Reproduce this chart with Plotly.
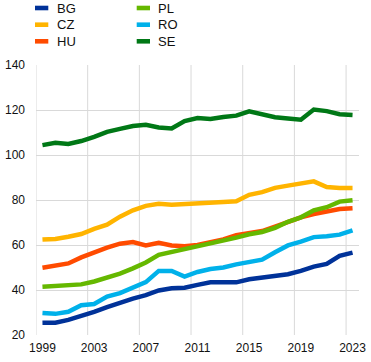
import plotly.graph_objects as go

years = list(range(1999, 2024))
BG = [25.4, 25.5, 26.7, 28.4, 30.3, 32.4, 34.4, 36.2, 37.7, 39.8, 40.8, 41.0, 42.3,
      43.4, 43.4, 43.4, 44.8, 45.6, 46.2, 47.0, 48.5, 50.4, 51.6, 55.2, 56.6]
CZ = [62.4, 62.7, 63.7, 64.9, 67.2, 69.0, 72.6, 75.4, 77.4, 78.3, 77.9, 78.3, 78.7,
      78.7, 79.1, 79.4, 82.3, 83.5, 85.4, 86.4, 87.2, 88.3, 85.8, 85.3, 85.3]
HU = [49.9, 50.7, 51.8, 54.5, 56.8, 58.8, 60.6, 61.3, 59.8, 61.0, 59.8, 59.4, 60.0,
      61.0, 62.5, 64.4, 65.5, 66.2, 68.2, 70.3, 72.3, 73.8, 74.8, 76.0, 76.3]
PL = [41.4, 41.9, 42.2, 42.5, 43.8, 45.3, 47.3, 49.6, 52.2, 55.6, 56.8, 58.0, 59.6,
      60.8, 62.0, 63.3, 64.8, 65.8, 67.6, 70.3, 72.3, 75.4, 76.8, 79.3, 79.9]
RO = [29.8, 29.4, 30.3, 33.2, 33.8, 37.1, 38.6, 40.8, 43.5, 48.5, 48.5, 46.0, 48.0,
      49.3, 50.0, 51.4, 52.5, 53.5, 56.8, 59.8, 61.5, 63.5, 63.9, 64.6, 66.5]
SE = [104.4, 105.4, 104.9, 106.2, 108.1, 110.3, 111.6, 112.9, 113.4, 112.2, 111.8, 115.1, 116.4,
      116.0, 116.9, 117.5, 119.4, 118.1, 116.8, 116.2, 115.7, 120.2, 119.5, 118.1, 117.8]

x_ticks = [1999, 2003, 2007, 2011, 2015, 2019, 2023]
y_ticks = [20, 40, 60, 80, 100, 120, 140]

names = ["BG", "CZ", "HU", "PL", "RO", "SE"]
values = [BG, CZ, HU, PL, RO, SE]
colors = ["#003299", "#FFB400", "#FF4B00", "#65B800", "#00B1EA", "#007816"]

FONT = "Liberation Sans, Arial, sans-serif"
GRID = "#d9d9d9"
W, H = 371, 362
ML, MR, MT, MB = 36, 12, 65, 27
PW, PH = W - ML - MR, H - MT - MB


def px_x(px):
    return (px - ML) / PW


def px_y(py):
    return (H - MB - py) / PH


fig = go.Figure()
draw_order = [5, 1, 2, 4, 0, 3]
for i in draw_order:
    fig.add_trace(go.Scatter(x=years, y=values[i], mode="lines", name=names[i],
                             line=dict(color=colors[i], width=4.5), showlegend=False))

# vertical grid lines at category boundaries
for t in x_ticks:
    fig.add_shape(type="line", xref="x", yref="paper", x0=t - 0.5, x1=t - 0.5, y0=0, y1=1,
                  line=dict(color=GRID, width=1), layer="below")

# legend: two columns of three entries
col_x = [35, 136.7]
row_y = [8, 24.7, 41.3]
for i, (name, color) in enumerate(zip(names, colors)):
    c, r = divmod(i, 3)
    sx = col_x[c]
    sy = row_y[r]
    fig.add_shape(type="rect", xref="paper", yref="paper",
                  x0=px_x(sx), x1=px_x(sx + 13.3), y0=px_y(sy + 2.3), y1=px_y(sy - 2.3),
                  line=dict(width=0), fillcolor=color)
    fig.add_annotation(xref="paper", yref="paper", x=px_x(sx + 20.5), y=px_y(sy),
                       xanchor="left", yanchor="middle", text=name, showarrow=False,
                       font=dict(size=13, color="#111", family=FONT), borderpad=0)

fig.update_layout(
    width=W, height=H,
    margin=dict(l=ML, r=MR, t=MT, b=MB, autoexpand=False),
    paper_bgcolor="white", plot_bgcolor="white",
    font=dict(family=FONT, size=12, color="#111"),
    showlegend=False,
    xaxis=dict(range=[1998.5, 2023.5], tickmode="array", tickvals=x_ticks,
               ticktext=[str(t) for t in x_ticks], showgrid=False, zeroline=False,
               showline=False, ticks="", tickfont=dict(size=12), automargin=False,
               ticklabelstandoff=4),
    yaxis=dict(range=[20, 140], tickmode="array", tickvals=y_ticks, showgrid=True,
               gridcolor=GRID, gridwidth=1, zeroline=False, showline=False, ticks="",
               ticklabelstandoff=10, tickfont=dict(size=12), automargin=False),
)

fig.write_html("out.html", config={"displayModeBar": False},
               post_script="document.body.style.margin='0px';")
